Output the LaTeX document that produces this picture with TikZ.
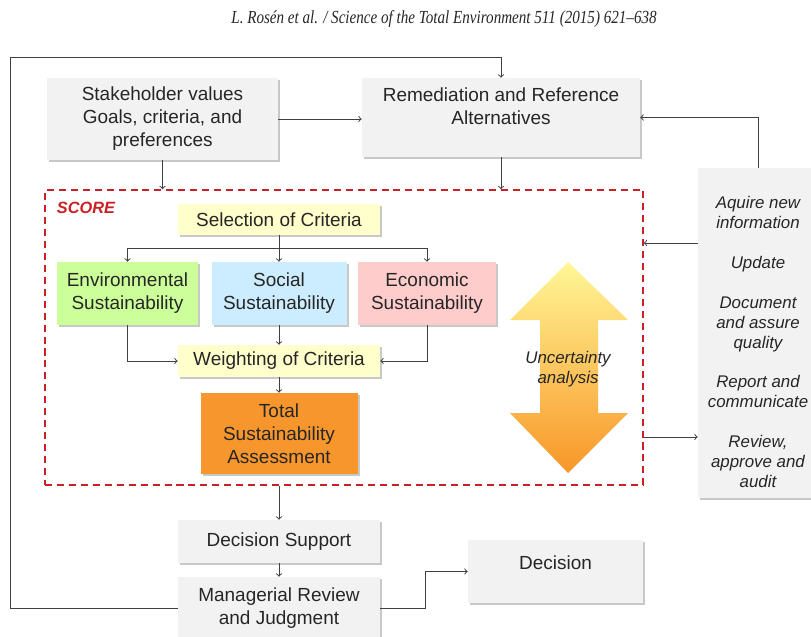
\documentclass[tikz,border=0pt]{standalone}
\usepackage{fontspec}
\setmainfont{Liberation Sans}
\newfontfamily\hdrfont[FakeStretch=0.82]{Liberation Serif}
\usetikzlibrary{shadows}
\definecolor{txtgray}{RGB}{38,38,38}
\definecolor{linegray}{RGB}{64,64,64}
\definecolor{boxgray}{RGB}{242,242,242}
\definecolor{crityellow}{RGB}{255,255,204}
\definecolor{envgreen}{RGB}{204,255,153}
\definecolor{socblue}{RGB}{204,236,255}
\definecolor{ecopink}{RGB}{255,204,204}
\definecolor{totorange}{RGB}{247,150,45}
\definecolor{scorered}{RGB}{204,32,39}
\definecolor{arrtop}{RGB}{255,247,150}
\definecolor{arrmid}{RGB}{252,208,95}
\definecolor{arrbot}{RGB}{248,150,40}
\tikzset{sz/.style 2 args={minimum width=#1*0.025cm, minimum height=#2*0.025cm},
	box/.style={fill=boxgray, align=center, inner sep=0pt, text=txtgray, font=\fontsize{13.5}{16.3}\selectfont, drop shadow={shadow xshift=1.5pt, shadow yshift=-1.5pt, opacity=0.3, fill=black!70}},
	scorebox/.style={draw=scorered, line width=1.1pt, dash pattern=on 5pt off 3.5pt, inner sep=0pt},
	scorelbl/.style={text=scorered, font=\fontsize{11.6}{14}\selectfont\bfseries\itshape},
	infotxt/.style={align=center, text=txtgray, font=\fontsize{12}{14.2}\selectfont\itshape},
	hdr/.style={text=txtgray, font=\hdrfont\fontsize{13.1}{15}\selectfont\itshape}}

\begin{document}
\begin{tikzpicture}[x=0.025cm, y=-0.025cm]
	%Rahmen
	\useasboundingbox[fill=white] (0,0) rectangle (811,637);
	\clip (0,0) rectangle (811,637);
	%Kopf
	\node[hdr] (hdr) at (444,19) {L. Rosén et al. / Science of the Total Environment 511 (2015) 621–638};
	%Kaesten
	\node[box, sz={231}{82}] (stake) at (162.5,119) {Stakeholder values\\Goals, criteria, and\\preferences};
	\node[box, sz={278}{79}, text depth=0.575cm] (remed) at (501,117.5) {Remediation and Reference\\Alternatives};
	\node[scorebox, sz={598}{295}] (score) at (344,337.5) {};
	\node[scorelbl] (scorelbl) at (86,208) {SCORE};
	\node[box, fill=crityellow, sz={202}{31}] (sel) at (279,219.5) {Selection of Criteria};
	\node[box, fill=envgreen, sz={141}{63}] (env) at (127.5,293.5) {Environmental\\Sustainability};
	\node[box, fill=socblue, sz={135}{63}] (soc) at (279,293.5) {Social\\Sustainability};
	\node[box, fill=ecopink, sz={138}{63}] (eco) at (427,293.5) {Economic\\Sustainability};
	\node[box, fill=crityellow, sz={202}{32}] (wei) at (279,361) {Weighting of Criteria};
	\node[box, fill=totorange, sz={157}{81}] (tot) at (279,433.5) {Total\\Sustainability\\Assessment};
	\node[box, sz={202}{43}] (dsup) at (279,541.5) {Decision Support};
	\node[box, sz={202}{63}] (mgr) at (279,608.5) {Managerial Review\\and Judgment};
	\node[box, sz={175}{63}, text depth=0.43cm] (dec) at (555.5,571.5) {Decision};
	\node[box, sz={120}{330}] (info) at (758,333) {};
	\node[infotxt] (infolist) at (758,342) {Aquire new\\information\\[14pt]Update\\[14pt]Document\\and assure\\quality\\[14pt]Report and\\communicate\\[14pt]Review,\\approve and\\audit};
	%Unsicherheit
	\shade[top color=arrtop, middle color=arrmid, bottom color=arrbot] (568,262) -- (628,320) -- (598,320) -- (598,413) -- (628,413) -- (568,473) -- (510,413) -- (540,413) -- (540,320) -- (510,320) -- cycle;
	\node[infotxt] (unc) at (568,369) {Uncertainty\\analysis};
	%Pfeile
	\coordinate (loop) at (10,57);
	\coordinate (split) at (279,248);
	\coordinate (upd) at (0,243);
	\coordinate (rep) at (0,437);
	\begin{scope}[draw=linegray, line width=0.7pt]
		\draw[->] (mgr.west) -| (loop) -| (remed.north);
		\draw[->] (stake.east) -- (stake.east -| remed.west);
		\draw[->] (info.north) |- (remed.east);
		\draw[->] (stake.south) -- (stake.south |- score.north);
		\draw[->] (remed.south) -- (remed.south |- score.north);
		\draw (sel.south) -- (split);
		\draw[->] (split) -| (env.north);
		\draw[->] (split) -| (eco.north);
		\draw[->] (split) -- (soc.north);
		\draw[->] (env.south) |- (wei.west);
		\draw[->] (eco.south) |- (wei.east);
		\draw[->] (soc.south) -- (wei.north);
		\draw[->] (wei.south) -- (tot.north);
		\draw[->] (info.west |- upd) -- (score.east |- upd);
		\draw[->] (score.east |- rep) -- (info.west |- rep);
		\draw[->] (dsup.north |- score.south) -- (dsup.north);
		\draw[->] (dsup.south) -- (mgr.north);
		\draw[->] (mgr.east) -- ++(45,0) |- (dec.west);
	\end{scope}
\end{tikzpicture}
\end{document}
